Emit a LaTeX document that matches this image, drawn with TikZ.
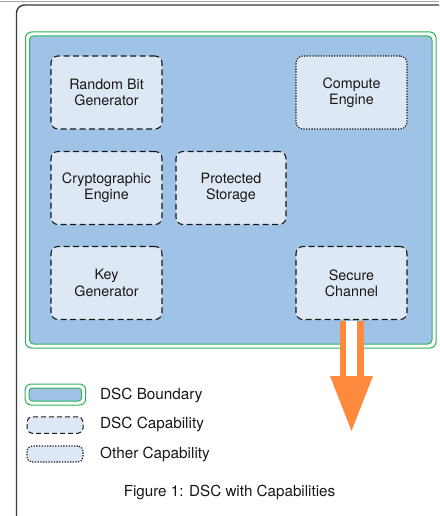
\documentclass[tikz,border=0pt]{standalone}
\usepackage{fontspec}
\setmainfont{TeX Gyre Heros}
\definecolor{dscgreen}{HTML}{2DB45A}
\definecolor{dscblue}{HTML}{9EC3E6}
\definecolor{caplight}{HTML}{DDE8F4}
\definecolor{arroworange}{HTML}{FF8A3D}
\definecolor{txt}{HTML}{181818}
\definecolor{framegray}{HTML}{3A3A3A}
\tikzset{
  capbox/.style={draw=txt, fill=caplight, line width=1.1pt, dash pattern=on 6pt off 3.5pt,
    rounded corners=7pt, minimum width=111pt, minimum height=73pt, inner sep=0pt,
    align=center, font=\fontsize{14.3}{16.3}\selectfont, text=txt},
  otherbox/.style={capbox, dash pattern=on 1.3pt off 1.4pt, line width=1.1pt},
  legtext/.style={anchor=west, font=\fontsize{15.3}{18}\selectfont, text=txt, inner sep=0pt},
}
\begin{document}
\begin{tikzpicture}[x=1pt,y=-1pt]
\useasboundingbox (0,0) rectangle (439,516);
\clip (0,0) rectangle (439,516);
\fill[white] (0,0) rectangle (439,516);
% outer frame
\draw[gray!70, line width=1.2pt] (0,1.5) -- (439,1.5);
\draw[framegray, line width=1.4pt, rounded corners=8pt] (16.5,540) -- (16.5,5) -- (470,5);
% DSC boundary
\draw[dscgreen, line width=1pt, rounded corners=6pt] (25.5,32) rectangle (436,348);
\draw[dscgreen, fill=dscblue, line width=1pt, rounded corners=4pt] (29.5,36) rectangle (432,344);
% capabilities
\node[capbox] (rbg) at (106.5,92.5) {Random Bit\\Generator};
\node[otherbox] (ce) at (351.5,92.5) {Compute\\Engine};
\node[capbox] (cr) at (106.5,188) {Cryptographic\\Engine};
\node[capbox, minimum width=110pt] (ps) at (231,188) {Protected\\Storage};
\node[capbox] (kg) at (106.5,283) {Key\\Generator};
\node[capbox] (sc) at (351.5,283) {Secure\\Channel};
% arrow
\coordinate (neck) at (351.5,376);
\coordinate (tip) at (351.5,431);
\draw[arroworange, line width=24pt] ([yshift=-0.6pt]sc.south) -- ([yshift=-0.5pt]neck);
\draw[white, line width=11.6pt] ([yshift=-0.6pt]sc.south) -- ([yshift=-0.5pt]neck);
\fill[arroworange] ([xshift=-21.5pt]neck) -- ([xshift=21.5pt]neck) -- (tip) -- cycle;
% legend
\node[draw=dscgreen, line width=1pt, rounded corners=6pt, minimum width=60.5pt, minimum height=21pt, inner sep=0pt] (lb) at (55.4,394.5) {};
\node[draw=dscgreen, fill=dscblue, line width=1pt, rounded corners=3.5pt, minimum width=52.5pt, minimum height=13pt, inner sep=0pt] (lbi) at (55.4,394.5) {};
\node[capbox, minimum width=56pt, minimum height=16.5pt, rounded corners=5pt, line width=1pt, dash pattern=on 5pt off 3pt] (lc) at (55,425) {};
\node[otherbox, minimum width=56pt, minimum height=16pt, rounded corners=5pt] (lo) at (55,454) {};
\node[legtext] (tb) at (100,395) {DSC Boundary};
\node[legtext] (tc) at (100,424.5) {DSC Capability};
\node[legtext] (to) at (100,454.5) {Other Capability};
\node[font=\fontsize{15.2}{17}\selectfont, text=txt, inner sep=0pt] (cap) at (229.5,492) {Figure 1: DSC with Capabilities};
\end{tikzpicture}
\end{document}
